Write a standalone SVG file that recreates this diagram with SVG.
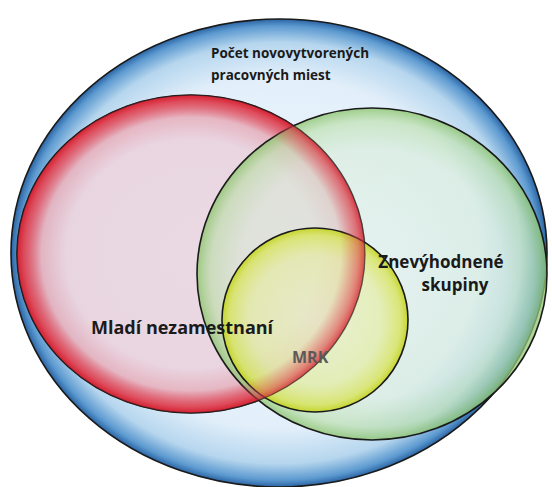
<svg xmlns="http://www.w3.org/2000/svg" width="552" height="487" viewBox="0 0 552 487">
<defs>
<radialGradient id="gBlue" cx="50%" cy="50%" r="50%">
<stop offset="0" stop-color="#f2f8fd"/>
<stop offset="0.75" stop-color="#e2effa"/>
<stop offset="0.9" stop-color="#b6d6ee"/>
<stop offset="0.97" stop-color="#5d9ad0"/>
<stop offset="1" stop-color="#2a64a4"/>
</radialGradient>
<radialGradient id="gRed" cx="50%" cy="50%" r="50%">
<stop offset="0" stop-color="#ead8e2" stop-opacity="0.95"/>
<stop offset="0.72" stop-color="#e9d3de" stop-opacity="0.92"/>
<stop offset="0.86" stop-color="#e6b0bd" stop-opacity="0.9"/>
<stop offset="0.96" stop-color="#de5262" stop-opacity="0.95"/>
<stop offset="1" stop-color="#d42232"/>
</radialGradient>
<radialGradient id="gRedRim" cx="50%" cy="50%" r="50%">
<stop offset="0.86" stop-color="#e06070" stop-opacity="0"/>
<stop offset="0.96" stop-color="#de4050" stop-opacity="0.5"/>
<stop offset="1" stop-color="#d42232" stop-opacity="0.75"/>
</radialGradient>
<radialGradient id="gGreen" cx="50%" cy="50%" r="50%">
<stop offset="0" stop-color="#def0e6" stop-opacity="0.5"/>
<stop offset="0.75" stop-color="#d4ebd2" stop-opacity="0.5"/>
<stop offset="0.92" stop-color="#b8dea4" stop-opacity="0.6"/>
<stop offset="1" stop-color="#8cc46c" stop-opacity="0.8"/>
</radialGradient>
<radialGradient id="gYellow" cx="50%" cy="50%" r="50%">
<stop offset="0" stop-color="#eef0b8" stop-opacity="0.5"/>
<stop offset="0.7" stop-color="#e6ec98" stop-opacity="0.6"/>
<stop offset="0.92" stop-color="#d8e462" stop-opacity="0.85"/>
<stop offset="1" stop-color="#c4d424" stop-opacity="0.95"/>
</radialGradient>
</defs>
<style>
.ring{stroke:#1a1a1a;stroke-width:1.6}
.lbl{font-family:"Open Sans","Liberation Sans",sans-serif;font-weight:bold;fill:#1a1a1a}
</style>
<rect width="552" height="487" fill="#ffffff"/>
<g id="node-pocet">
<ellipse class="ring" cx="279" cy="253" rx="268" ry="234" fill="url(#gBlue)"/>
<text class="lbl" x="211" y="58" font-size="13.5">Počet novovytvorených</text>
<text class="lbl" x="211" y="80" font-size="13.5">pracovných miest</text>
</g>
<g id="node-mladi">
<ellipse class="ring" cx="191" cy="254" rx="174" ry="159" fill="url(#gRed)"/>
</g>
<g id="node-znevyhodnene">
<ellipse class="ring" cx="372" cy="274" rx="175" ry="166" fill="url(#gGreen)"/>
</g>
<g id="node-mrk">
<ellipse class="ring" cx="315" cy="320" rx="93" ry="92" fill="url(#gYellow)"/>
</g>
<g id="node-mladi-rim">
<ellipse cx="191" cy="254" rx="174" ry="159" fill="url(#gRedRim)" stroke="#1a1a1a" stroke-width="1.2" stroke-opacity="0.6"/>
</g>
<g id="labels">
<text class="lbl" x="91" y="334" font-size="18" fill="#2a2a2a">Mladí nezamestnaní</text>
<text class="lbl" x="441" y="268" font-size="17" text-anchor="middle">Znevýhodnené</text>
<text class="lbl" x="455" y="291" font-size="17" text-anchor="middle">skupiny</text>
<text x="292" y="363" font-size="16" font-family="Open Sans,Liberation Sans,sans-serif" font-weight="bold" fill="#5a5a5a">MRK</text>
</g>
<g id="connectors"/>
</svg>
